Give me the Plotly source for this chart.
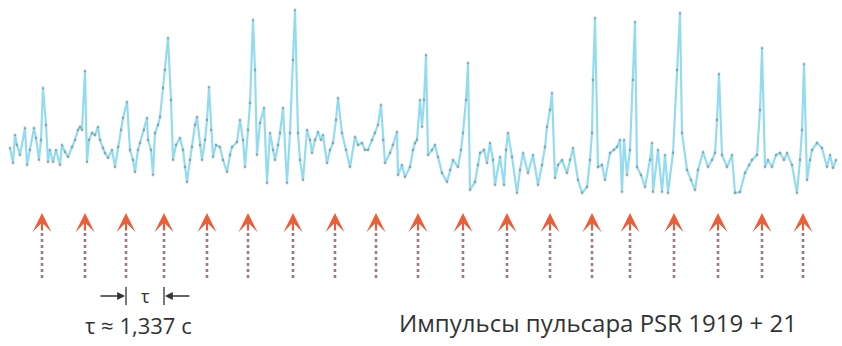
import plotly.graph_objects as go

# Pulsar signal trace (time in px-like units, amplitude above baseline)
sample_t = [
    10, 13, 15, 17, 20, 25, 27, 30, 34, 36,
    39, 41, 43, 46, 48, 50, 53, 56, 60, 62,
    65, 68, 72, 75, 78, 80, 82, 85, 87, 89,
    92, 95, 98, 100, 103, 105, 108, 112, 115, 118,
    121, 123, 127, 130, 133, 135, 138, 140, 144, 147,
    148, 151, 153, 155, 158, 160, 163, 165, 168, 171,
    173, 176, 180, 183, 185, 187, 190, 192, 195, 197,
    200, 202, 205, 207, 209, 211, 213, 216, 220, 223,
    227, 230, 232, 237, 240, 243, 245, 248, 250, 253,
    255, 257, 260, 264, 267, 270, 273, 275, 278, 280,
    283, 287, 290, 293, 295, 298, 300, 303, 307, 310,
    312, 315, 318, 321, 323, 327, 330, 333, 336, 338,
    342, 346, 350, 355, 358, 362, 365, 368, 372, 375,
    378, 381, 383, 385, 390, 393, 397, 398, 402, 405,
    410, 413, 415, 417, 420, 422, 424, 426, 428, 432,
    435, 438, 442, 447, 450, 453, 458, 461, 463, 466,
    468, 470, 475, 478, 480, 484, 487, 490, 493, 495,
    500, 504, 506, 508, 512, 517, 520, 523, 528, 533,
    538, 542, 545, 547, 550, 552, 555, 558, 562, 567,
    570, 573, 578, 582, 587, 590, 592, 593, 595, 598,
    602, 605, 610, 614, 617, 620, 622, 624, 627, 630,
    633, 635, 637, 641, 645, 650, 652, 653, 658, 662,
    665, 668, 673, 677, 680, 682, 687, 691, 695, 698,
    703, 708, 712, 715, 717, 719, 722, 727, 732, 735,
    740, 745, 749, 752, 757, 760, 762, 765, 768, 772,
    776, 780, 784, 787, 792, 797, 800, 802, 804, 807,
    810, 812, 817, 822, 827, 830, 833, 836,
]
signal = [
    2, -13, 15, 5, -5, 22, -15, 0, 22, 12,
    -10, 10, 62, 25, -12, 0, -12, 0, -15, 5,
    -2, -7, 3, 10, 20, 23, 20, 79, -12, 10,
    17, 15, 23, 10, 2, -3, -8, 0, -17, 3,
    20, 32, 48, 0, -10, -22, 0, 7, 20, 32,
    10, 0, -25, 17, 25, 33, 62, 80, 112, 50,
    -10, 5, 12, 0, -17, -32, -10, 3, 25, 33,
    5, -10, 10, 30, 63, 20, -7, 5, 3, -10,
    -22, -5, 3, 8, 30, 10, -17, 20, 47, 130,
    80, -5, 27, 42, -33, 17, 0, -10, 5, 17,
    42, -33, 17, 90, 140, 17, -10, -30, 20, 10,
    -3, 10, 18, 10, 15, -13, 0, 7, 30, 52,
    17, 0, -17, 13, 5, 7, 0, 0, 10, 17,
    25, 45, 10, -13, -3, 5, 18, -25, -15, -27,
    -17, 0, 7, 10, 50, 23, 50, 95, -5, 0,
    5, -7, -23, -32, -20, -10, -17, 0, 17, 50,
    87, -40, -32, -15, -3, 0, -13, 7, -10, -35,
    -7, -35, 0, 17, -7, -43, -20, -3, -23, -5,
    -35, -15, 3, 23, 40, 57, -28, -15, -10, -23,
    -10, 2, -30, -43, -37, -10, 17, 70, 132, -17,
    -15, -30, -3, 0, 3, 10, -42, 10, -25, 0,
    70, 128, -17, -25, -37, -10, 7, -42, 0, -42,
    -5, -43, -3, 80, 137, 17, -20, -30, -40, -20,
    -2, -17, -10, -3, 30, 76, -5, -17, -5, -43,
    -42, -23, -15, -10, -5, 40, 102, -17, -10, -17,
    -5, -3, -10, -3, -15, -43, -10, 20, 86, -30,
    -10, 0, 7, 2, -17, -5, -18, -10,
]

# pulse arrival marks, one per period tau
pulse_t = [42, 85, 126, 164, 207, 248, 293, 335, 376, 418,
           463, 507, 550, 592, 630, 674, 718, 762, 803]

tau_symbol = "τ"
tau_label = "τ ≈ 1,337 с"
caption = "Импульсы пульсара PSR 1919 + 21"

FONT = "Open Sans"
TEXT_COLOR = "#333333"

# arrow geometry in amplitude units
ARROW_TIP = -63
HEAD_BASE = -82
SHAFT_BOTTOM = -128
BRACKET_Y = -146
LABEL_Y = -175

fig = go.Figure()

fig.add_trace(go.Scatter(
    x=sample_t, y=signal, mode='lines+markers',
    line=dict(color='rgba(122,210,236,0.8)', width=2.2),
    marker=dict(size=2.8, color='rgba(105,125,135,0.55)'),
    hoverinfo='skip', showlegend=False
))

# dotted arrow shafts
shaft_x, shaft_y = [], []
for t in pulse_t:
    shaft_x += [t, t, None]
    shaft_y += [SHAFT_BOTTOM, HEAD_BASE + 2, None]
fig.add_trace(go.Scatter(
    x=shaft_x, y=shaft_y, mode='lines',
    line=dict(color='#9a7a82', width=2.6, dash='dot'),
    hoverinfo='skip', showlegend=False
))

# arrow heads
for t in pulse_t:
    fig.add_annotation(
        x=t, y=ARROW_TIP, ax=t, ay=HEAD_BASE,
        xref='x', yref='y', axref='x', ayref='y',
        text='', showarrow=True, arrowhead=3,
        arrowsize=1.45, arrowwidth=2.2, arrowcolor='#e6603c'
    )

# tau bracket between the 3rd and 4th pulses
left, right = pulse_t[2], pulse_t[3]
for x_end, x_tail in [(left - 1, left - 27), (right + 1, right + 27)]:
    fig.add_annotation(
        x=x_end, y=BRACKET_Y, ax=x_tail, ay=BRACKET_Y,
        xref='x', yref='y', axref='x', ayref='y',
        text='', showarrow=True, arrowhead=2,
        arrowsize=1.2, arrowwidth=1.3, arrowcolor=TEXT_COLOR
    )
for xb in (left, right):
    fig.add_shape(type='line', x0=xb, x1=xb, y0=BRACKET_Y + 9, y1=BRACKET_Y - 9,
                  xref='x', yref='y', line=dict(color=TEXT_COLOR, width=1.3))

fig.add_annotation(x=(left + right) / 2, y=BRACKET_Y, text=tau_symbol, showarrow=False,
                   font=dict(family=FONT, size=18, color=TEXT_COLOR))
fig.add_annotation(x=(left + right) / 2 - 7, y=LABEL_Y, text=tau_label, showarrow=False,
                   font=dict(family=FONT, size=22, color=TEXT_COLOR))
fig.add_annotation(x=598, y=LABEL_Y + 3, text=caption, showarrow=False,
                   font=dict(family=FONT, size=24, color=TEXT_COLOR))

fig.update_layout(
    width=842, height=346,
    margin=dict(l=0, r=0, t=0, b=0),
    paper_bgcolor='white', plot_bgcolor='white',
    xaxis=dict(range=[0, 842], visible=False),
    yaxis=dict(range=[-196, 150], visible=False),
)

fig.write_html("out.html", config={'displayModeBar': False},
               post_script="document.body.style.margin = '0';")
